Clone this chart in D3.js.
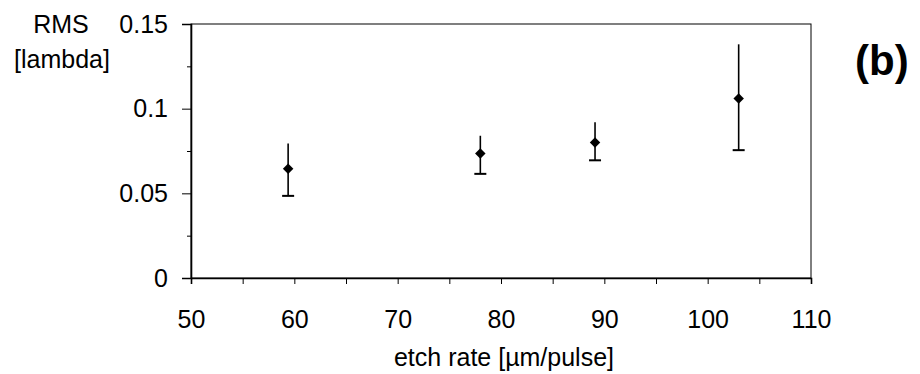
<!DOCTYPE html>
<html lang="en">
  <head>
    <meta charset="utf-8">
    <title>RMS vs etch rate</title>
    <style>
    body {margin: 0; background: #fff;}
    text {font-family: "Liberation Sans", Arial, sans-serif; fill: #000;}
    </style>
  </head>
  <body>
    <div id="chart"></div>
    <script src="https://d3js.org/d3.v7.min.js"></script>
    <script>
      // data
      var etchRate = [59.4, 78.0, 89.1, 103.0];
      var rms      = [0.0645, 0.0735, 0.080, 0.106];
      var errUp    = [0.0795, 0.0840, 0.0920, 0.138];
      var errLow   = [0.0485, 0.0615, 0.0695, 0.0755];
      var xTicks = [50, 60, 70, 80, 90, 100, 110];
      var yTicks = [0, 0.05, 0.1, 0.15];

      var W = 920, H = 374;
      var margin = {top: 24, right: 109, bottom: 96, left: 191},
          width = W - margin.left - margin.right,
          height = H - margin.top - margin.bottom;

      var svg = d3.select("#chart").append("svg")
          .attr("width", W).attr("height", H)
        .append("g")
          .attr("transform", "translate(" + margin.left + "," + margin.top + ")");

      var x = d3.scaleLinear().domain([50, 110]).range([0, width]);
      var y = d3.scaleLinear().domain([0, 0.15]).range([height, 0]);

      // frame (top and right)
      svg.append("rect")
        .attr("x", 0).attr("y", 0)
        .attr("width", width).attr("height", height)
        .attr("fill", "none").attr("stroke", "#000").attr("stroke-width", 1);

      // x axis: ticks every 5, labels every 10
      var xAxis = svg.append("g")
        .attr("transform", "translate(0," + height + ")")
        .call(d3.axisBottom(x).tickValues(d3.range(50, 111, 5)).tickSize(6)
          .tickFormat(function(d) { return xTicks.indexOf(d) >= 0 ? d : ""; }));
      xAxis.select(".domain").attr("stroke-width", 1.6);
      xAxis.selectAll("text").attr("font-size", 25).attr("y", 32);

      // y minor ticks
      svg.append("g")
        .call(d3.axisLeft(y).tickValues([0.025, 0.075, 0.125]).tickSize(4).tickFormat(""))
        .select(".domain").remove();

      var yAxis = svg.append("g")
        .call(d3.axisLeft(y).tickValues(yTicks).tickSize(9).tickPadding(14)
          .tickFormat(function(d) { return d === 0 ? "0" : d3.format("")(d); }));
      yAxis.select(".domain").attr("stroke-width", 1.6);
      yAxis.selectAll("text").attr("font-size", 25);

      // axis titles
      svg.append("text").attr("x", 61 - margin.left).attr("y", 33 - margin.top)
        .attr("text-anchor", "middle").attr("font-size", 25).text("RMS");
      svg.append("text").attr("x", 62 - margin.left).attr("y", 68 - margin.top)
        .attr("text-anchor", "middle").attr("font-size", 25).text("[lambda]");
      svg.append("text").attr("x", 504 - margin.left).attr("y", 366 - margin.top)
        .attr("text-anchor", "middle").attr("font-size", 25).text("etch rate [µm/pulse]");

      svg.append("text").attr("x", 855 - margin.left).attr("y", 75 - margin.top)
        .attr("font-size", 42).attr("font-weight", "bold").text("(b)");

      var pts = etchRate.map(function(d, i) {
        return {x: d, y: rms[i], hi: errUp[i], lo: errLow[i]};
      });

      // error bars (cap only at the lower end)
      svg.selectAll(".err").data(pts).enter().append("line")
        .attr("x1", function(d) { return x(d.x); })
        .attr("x2", function(d) { return x(d.x); })
        .attr("y1", function(d) { return y(d.hi); })
        .attr("y2", function(d) { return y(d.lo); })
        .attr("stroke", "#000").attr("stroke-width", 1.6);
      svg.selectAll(".cap").data(pts).enter().append("line")
        .attr("x1", function(d) { return x(d.x) - 6; })
        .attr("x2", function(d) { return x(d.x) + 6; })
        .attr("y1", function(d) { return y(d.lo); })
        .attr("y2", function(d) { return y(d.lo); })
        .attr("stroke", "#000").attr("stroke-width", 2);

      svg.selectAll(".pt").data(pts).enter().append("path")
        .attr("d", d3.symbol().type(d3.symbolSquare).size(55))
        .attr("transform", function(d) {
          return "translate(" + x(d.x) + "," + y(d.y) + ") rotate(45)";
        })
        .attr("fill", "#000");
    </script>
  </body>
</html>
